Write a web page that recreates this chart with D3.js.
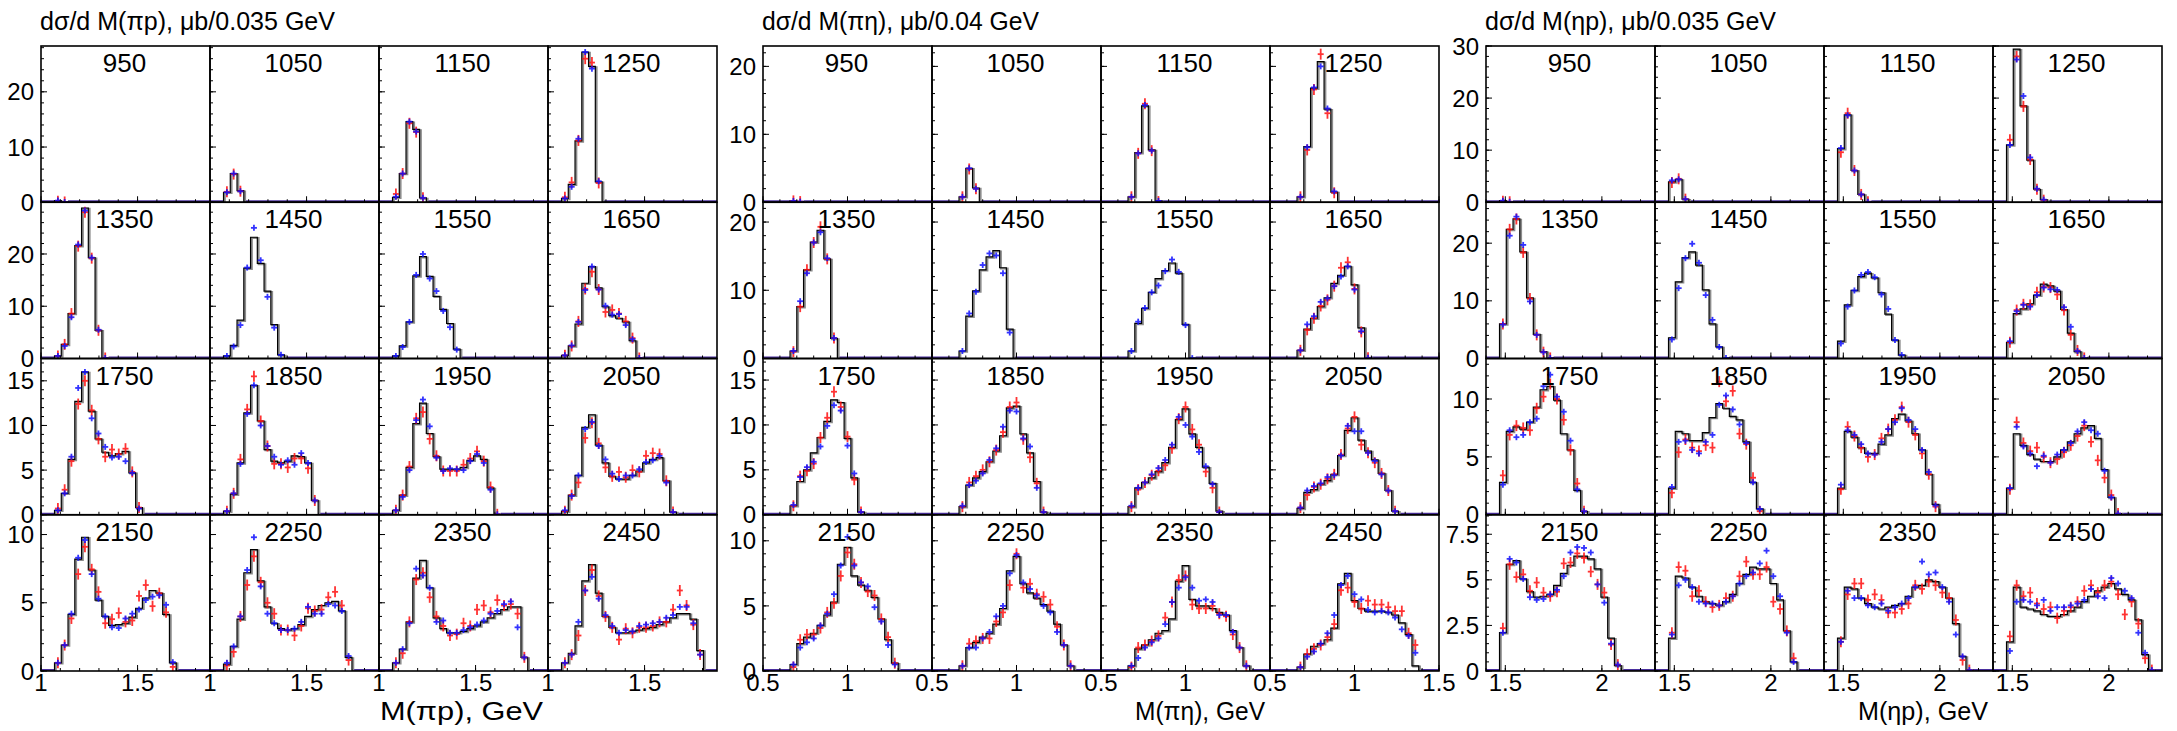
<!DOCTYPE html>
<html>
<head>
<meta charset="utf-8">
<script src="https://cdn.jsdelivr.net/npm/d3@7/dist/d3.min.js"></script>
<style>
    body { margin: 0; background: #fff; }
    svg text { font-family: "Liberation Sans", Arial, Helvetica, sans-serif; fill: #000; }
</style>
</head>
<body>
<div id="chart"></div>
<script>
// energy of each pad (MeV), read row by row
const energies = [950, 1050, 1150, 1250, 1350, 1450, 1550, 1650, 1750, 1850, 1950, 2050, 2150, 2250, 2350, 2450];

/* ---- M(pi p) : bins of 0.035 GeV starting at 1.0, first filled bin = 2 ---- */
const pipHist = [
    [0.3, 0.05],
    [1.8, 5.2, 2.1],
    [0.9, 5.2, 14.6, 13.2, 0.8],
    [0.7, 3.25, 11.1, 27.2, 24.6, 3.7],
    [0.5, 2.7, 8.6, 21.6, 28.8, 19.3, 5.4, 0.1],
    [0.5, 2.5, 7.35, 17.3, 23.2, 18.2, 12.9, 6.5, 0.7],
    [0.5, 2.4, 7.0, 15.8, 19.5, 15.7, 11.9, 9.4, 6.7, 1.8],
    [0.6, 2.4, 6.6, 14.4, 17.6, 13.5, 9.9, 8.2, 7.7, 7.0, 3.4, 0.1],
    [0.5, 2.4, 6.2, 12.7, 16.0, 11.6, 8.5, 7.0, 6.6, 6.85, 7.1, 4.7, 0.8],
    [0.4, 2.3, 5.8, 11.4, 14.5, 10.5, 7.3, 6.0, 5.8, 6.0, 6.6, 6.5, 5.8, 1.6],
    [0.5, 2.2, 5.3, 10.2, 12.5, 9.1, 6.5, 5.1, 5.1, 5.1, 5.3, 6.1, 6.6, 6.2, 3.0, 0.05],
    [0.4, 2.2, 4.4, 9.8, 11.2, 7.8, 5.8, 4.3, 4.0, 4.0, 4.4, 4.9, 5.8, 6.2, 6.4, 3.8, 0.3],
    [0.6, 1.9, 4.15, 8.2, 9.8, 7.4, 5.2, 4.0, 3.35, 3.4, 3.5, 3.95, 4.6, 5.35, 5.9, 5.7, 4.15, 0.6],
    [0.5, 1.8, 3.8, 7.2, 8.9, 6.6, 4.7, 3.5, 3.1, 3.0, 3.1, 3.4, 4.0, 4.5, 4.8, 5.0, 5.1, 4.4, 1.0],
    [0.6, 1.6, 3.6, 6.8, 8.1, 6.1, 3.9, 3.1, 2.8, 2.8, 2.9, 3.1, 3.3, 3.6, 3.9, 4.2, 4.5, 4.7, 4.7, 1.0],
    [0.6, 1.3, 3.3, 6.6, 7.8, 5.7, 4.0, 3.2, 2.8, 2.8, 2.9, 3.0, 3.1, 3.2, 3.4, 3.6, 3.9, 4.2, 4.2, 3.8, 1.5]
];
const pipBlue = [
    [0.3, 0.05],
    [1.8, 5.2, 2.0],
    [1.0, 5.2, 14.6, 12.8, 0.8],
    [0.7, 2.8, 11.5, 27.2, 24.2, 3.8],
    [0.5, 2.4, 7.9, 21.8, 28.3, 19.3, 5.5, 0.1],
    [0.5, 2.3, 6.4, 17.4, 25.0, 18.8, 11.8, 5.9, 0.7],
    [0.5, 2.2, 7.0, 16.0, 20.0, 15.3, 12.9, 9.1, 6.0, 1.7],
    [0.6, 2.5, 7.0, 13.1, 17.6, 13.2, 10.1, 8.4, 8.5, 6.4, 3.7, 0.1],
    [0.5, 2.4, 6.5, 14.2, 16.0, 10.8, 9.1, 7.6, 6.4, 6.5, 6.0, 4.7, 0.7],
    [0.4, 2.4, 5.7, 11.3, 14.5, 10.0, 7.7, 6.5, 5.6, 6.1, 5.6, 6.9, 5.8, 1.6],
    [0.5, 2.0, 5.0, 10.6, 12.9, 9.9, 6.4, 4.9, 5.2, 5.1, 5.0, 6.0, 6.8, 5.8, 2.8, 0.05],
    [0.5, 2.1, 4.4, 9.6, 10.4, 7.7, 6.2, 4.6, 4.0, 4.4, 4.4, 5.1, 5.9, 6.1, 6.6, 3.6, 0.3],
    [0.6, 1.9, 4.2, 8.3, 9.6, 7.1, 5.3, 4.0, 3.2, 3.15, 3.85, 4.2, 4.5, 5.2, 5.45, 5.55, 4.85, 0.65],
    [0.6, 1.8, 4.0, 7.4, 9.8, 6.2, 4.2, 3.5, 3.0, 3.0, 3.1, 3.6, 4.7, 4.2, 4.2, 4.9, 4.8, 4.4, 1.1],
    [0.6, 1.6, 3.5, 7.5, 7.0, 6.1, 3.6, 3.7, 2.8, 2.8, 3.0, 3.2, 3.4, 3.7, 4.2, 4.4, 4.9, 5.1, 3.2, 1.0],
    [0.6, 1.2, 3.6, 5.9, 6.9, 5.3, 4.1, 3.3, 2.8, 3.0, 2.9, 3.3, 3.4, 3.5, 3.6, 3.9, 4.1, 4.7, 4.7, 3.5, 1.2]
];
const pipRed = [
    [0.2, 0.05],
    [1.9, 5.1, 2.0],
    [1.5, 5.2, 14.3, 12.7, 0.8],
    [0.9, 3.6, 11.2, 26.0, 25.3, 3.5],
    [0.5, 2.7, 8.6, 21.5, 28.0, 19.2, 5.4, 0.1],
    null,
    null,
    [0.6, 2.4, 7.1, 13.3, 16.6, 13.2, 8.9, 9.3, 8.6, 7.1, 3.9, 0.1],
    [0.7, 2.8, 6.0, 12.4, 15.0, 11.7, 8.5, 6.5, 7.3, 6.8, 7.4, 4.8, 0.8],
    [0.4, 2.4, 6.2, 11.8, 15.5, 10.5, 7.7, 5.7, 5.7, 5.3, 6.3, 6.3, 5.2, 1.6],
    [0.5, 2.2, 5.4, 10.8, 11.5, 8.5, 6.6, 4.9, 4.9, 4.9, 5.6, 6.3, 7.1, 6.0, 3.1, 0.05],
    [0.4, 2.2, 3.6, 8.6, 10.3, 8.0, 5.3, 4.3, 4.8, 4.2, 5.0, 4.8, 6.6, 6.9, 6.8, 3.8, 0.3],
    [0.6, 1.9, 3.85, 7.1, 9.1, 7.45, 5.8, 3.5, 3.8, 4.25, 3.6, 3.7, 5.5, 6.3, 4.75, 5.7, 4.3, 0.3],
    [0.4, 1.4, 4.0, 6.3, 8.4, 6.5, 5.0, 4.2, 3.0, 3.0, 2.6, 3.3, 4.6, 4.4, 4.5, 5.4, 5.8, 4.8, 0.8],
    [0.6, 1.3, 3.6, 6.7, 7.2, 5.4, 4.0, 3.3, 2.6, 2.7, 3.5, 3.3, 4.5, 4.8, 4.3, 5.2, 4.8, 4.9, 4.2, 1.0],
    [0.6, 1.2, 2.6, 5.9, 7.4, 5.5, 4.0, 3.2, 2.3, 3.1, 2.8, 3.2, 3.2, 3.3, 3.6, 3.6, 4.5, 5.9, 4.8, 3.4, 1.2]
];
const pipRowMax = [28.3, 29.9, 17.5, 11.45];

/* ---- M(pi eta) : bins of 0.04 GeV starting at 0.5, first filled bin = 4 ---- */
const pietaHist = [
    [0.2, 0.1],
    [0.8, 5.0, 2.1],
    [0.8, 7.3, 14.2, 7.7, 0.2],
    [0.8, 8.2, 16.8, 20.7, 13.7, 1.5],
    [1.1, 7.6, 13.0, 17.05, 18.8, 14.6, 2.95],
    [1.1, 6.2, 9.9, 13.0, 14.9, 15.8, 13.3, 4.3],
    [1.1, 5.15, 7.35, 9.7, 11.7, 12.9, 14.0, 12.5, 5.0, 0.05],
    [1.2, 4.3, 5.9, 7.6, 8.9, 11.0, 12.2, 13.5, 10.8, 4.5, 0.1],
    [1.0, 3.7, 5.0, 6.9, 8.6, 10.4, 12.8, 12.5, 8.5, 4.1, 0.3],
    [0.9, 3.3, 4.1, 4.8, 5.9, 7.1, 8.8, 11.9, 12.1, 9.0, 6.9, 3.7, 0.3],
    [0.9, 3.0, 3.6, 4.1, 4.8, 5.8, 7.5, 10.6, 11.8, 9.0, 7.5, 5.3, 3.5, 0.4],
    [0.7, 2.5, 2.8, 3.4, 3.8, 4.5, 6.6, 9.4, 10.8, 8.3, 7.1, 6.1, 4.6, 2.7, 0.4],
    [0.5, 2.1, 2.6, 2.9, 3.5, 4.3, 5.3, 8.2, 9.5, 7.3, 6.6, 6.2, 5.65, 4.0, 2.4, 0.6],
    [0.4, 1.8, 2.2, 2.6, 2.9, 3.6, 4.8, 7.7, 8.8, 6.7, 6.0, 5.6, 5.1, 4.6, 3.6, 2.0, 0.4],
    [0.4, 1.7, 2.0, 2.4, 2.9, 3.1, 4.0, 6.9, 8.1, 5.5, 5.0, 5.0, 4.8, 4.5, 4.3, 3.1, 1.8, 0.4],
    [0.3, 1.3, 1.9, 2.1, 2.4, 3.3, 6.7, 7.5, 5.4, 4.8, 4.6, 4.6, 4.6, 4.5, 4.3, 3.7, 2.8, 0.4]
];
const pietaBlue = [
    [0.2, 0.1],
    [0.8, 5.0, 2.0],
    [0.8, 7.2, 14.3, 7.6, 0.2],
    [0.8, 8.1, 16.9, 20.0, 13.8, 1.6],
    [1.1, 8.4, 12.5, 17.0, 18.5, 14.7, 3.0],
    [1.1, 6.6, 9.8, 13.7, 15.4, 15.1, 12.5, 3.8],
    [1.1, 5.4, 7.4, 9.7, 10.7, 12.8, 14.5, 12.7, 4.9, 0.05],
    [1.2, 5.0, 6.2, 8.3, 8.8, 10.6, 12.0, 13.5, 10.1, 4.0, 0.1],
    [1.1, 4.2, 5.3, 5.9, 7.6, 9.9, 12.2, 11.6, 7.7, 4.6, 0.3],
    [1.0, 3.3, 3.8, 4.6, 6.1, 7.4, 9.8, 11.6, 11.5, 8.5, 7.6, 3.0, 0.3],
    [1.0, 3.0, 3.6, 4.5, 5.2, 6.1, 7.8, 10.9, 10.0, 8.7, 7.0, 5.4, 3.4, 0.3],
    [0.8, 2.7, 3.2, 3.5, 4.2, 4.4, 6.6, 9.9, 9.3, 9.3, 6.9, 6.0, 4.5, 2.7, 0.4],
    [0.5, 1.8, 2.2, 2.5, 3.5, 4.4, 5.9, 8.1, 10.3, 8.1, 6.8, 6.5, 4.9, 3.8, 2.0, 0.5],
    [0.4, 1.8, 1.8, 2.5, 3.0, 4.2, 5.0, 7.5, 8.9, 6.8, 6.3, 5.8, 5.0, 4.5, 3.0, 2.0, 0.4],
    [0.4, 1.0, 1.8, 2.2, 2.5, 3.6, 5.3, 6.4, 7.2, 6.4, 5.4, 5.5, 5.3, 4.3, 4.3, 3.0, 1.8, 0.4],
    [0.3, 1.1, 1.5, 2.1, 2.9, 4.3, 6.6, 7.3, 5.9, 5.5, 4.7, 4.5, 4.6, 4.5, 4.1, 3.2, 2.7, 1.4]
];
const pietaRed = [
    [0.2, 0.1],
    [0.8, 4.9, 2.0],
    [0.8, 7.2, 14.5, 7.6, 0.1],
    [0.8, 7.7, 16.6, 21.8, 13.1, 1.4],
    [1.0, 7.6, 13.0, 17.0, 19.3, 14.6, 3.0],
    null,
    null,
    [1.2, 4.2, 5.9, 7.7, 8.6, 10.6, 13.3, 14.1, 10.2, 3.9, 0.1],
    [1.0, 4.3, 4.9, 5.7, 8.6, 10.8, 13.7, 12.0, 8.7, 3.9, 0.3],
    [0.9, 3.6, 4.3, 5.0, 5.9, 7.2, 9.2, 12.0, 12.5, 8.4, 6.4, 3.5, 0.3],
    [0.9, 2.8, 3.6, 4.4, 4.9, 5.5, 7.4, 10.7, 12.0, 9.5, 7.8, 4.8, 3.0, 0.3],
    [0.8, 2.2, 3.1, 3.4, 4.0, 4.5, 6.7, 9.6, 10.9, 7.8, 6.9, 5.8, 4.6, 2.7, 0.4],
    [0.3, 2.4, 2.8, 2.8, 3.3, 4.5, 5.2, 7.3, 9.1, 8.2, 6.8, 6.1, 5.8, 4.0, 2.6, 0.6],
    [0.4, 2.1, 2.3, 2.5, 2.5, 3.8, 4.5, 6.6, 9.0, 6.4, 6.7, 5.9, 5.7, 5.1, 3.4, 2.0, 0.4],
    [0.3, 1.8, 2.0, 2.3, 2.7, 4.1, 5.3, 7.0, 7.3, 5.1, 4.8, 4.8, 5.0, 4.4, 4.2, 2.8, 1.8, 0.4],
    [0.3, 1.3, 1.7, 2.0, 2.6, 3.6, 6.2, 6.4, 5.3, 4.8, 5.4, 5.1, 5.1, 4.9, 4.6, 4.6, 2.9, 2.0]
];
const pietaRowMax = [23.0, 22.9, 17.4, 12.0];

/* ---- M(eta p) : bins of 0.035 GeV starting at 1.4, first filled bin = 2 ---- */
const etapHist = [
    [0.3, 0.1],
    [3.9, 4.4, 0.6],
    [10.3, 16.8, 6.1, 1.5, 0.1],
    [11.0, 29.4, 18.5, 8.1, 2.5, 0.5],
    [6.0, 22.4, 24.2, 18.5, 10.5, 4.2, 1.2, 0.1],
    [3.6, 13.3, 17.5, 18.5, 16.2, 11.9, 6.0, 2.0, 0.1],
    [3.0, 9.3, 11.8, 14.2, 14.8, 14.0, 11.4, 7.7, 3.2, 0.6],
    [2.8, 7.8, 8.6, 9.5, 11.0, 12.9, 12.6, 11.7, 8.5, 4.4, 1.2, 0.1],
    [2.8, 7.2, 7.6, 7.4, 8.0, 9.3, 10.8, 11.1, 9.9, 7.0, 5.6, 2.1, 0.3],
    [2.3, 7.2, 7.0, 6.4, 6.4, 7.1, 8.4, 9.6, 9.2, 8.5, 8.2, 6.3, 2.8, 0.5],
    [2.3, 7.2, 6.7, 5.8, 5.3, 5.3, 6.1, 6.9, 8.3, 8.7, 8.1, 7.0, 5.6, 3.5, 0.9],
    [2.3, 7.0, 6.0, 5.2, 4.8, 4.6, 4.6, 5.0, 5.6, 6.3, 7.0, 7.5, 7.7, 6.6, 3.9, 1.5, 0.1],
    [2.1, 5.85, 6.05, 5.05, 4.35, 4.05, 4.1, 4.2, 4.7, 5.35, 5.8, 6.3, 6.3, 6.15, 5.6, 4.05, 1.8, 0.3],
    [1.8, 5.2, 5.1, 4.6, 4.1, 3.8, 3.7, 3.6, 3.8, 4.2, 4.8, 5.3, 5.7, 5.6, 5.6, 4.8, 3.9, 2.2, 0.5],
    [1.8, 4.6, 4.5, 4.0, 3.7, 3.5, 3.4, 3.5, 3.6, 3.7, 4.1, 4.6, 4.7, 5.0, 4.9, 4.6, 4.0, 2.6, 0.8, 0.05],
    [1.6, 4.6, 3.5, 3.4, 3.3, 3.1, 3.0, 3.0, 3.1, 3.3, 3.5, 3.8, 4.1, 4.4, 4.6, 4.8, 4.5, 4.2, 3.9, 2.8, 0.9, 0.05]
];
const etapBlue = [
    [0.3, 0.1],
    [4.2, 4.4, 0.6],
    [10.4, 16.7, 6.1, 1.5, 0.1],
    [11.0, 27.4, 20.4, 8.6, 2.6, 0.5],
    [5.9, 21.3, 24.6, 19.7, 9.9, 4.1, 1.1, 0.1],
    [3.3, 12.2, 17.4, 19.9, 16.6, 11.0, 6.7, 2.0, 0.1],
    [2.6, 9.0, 11.8, 14.5, 15.0, 14.1, 11.1, 8.6, 3.2, 0.6],
    [3.0, 8.2, 9.3, 9.0, 11.0, 12.3, 12.0, 11.9, 8.9, 5.5, 1.3, 0.1],
    [2.6, 7.3, 6.7, 6.9, 8.0, 8.3, 11.1, 12.1, 10.2, 8.9, 6.4, 2.2, 0.3],
    [2.4, 6.3, 6.4, 5.6, 5.3, 6.3, 6.9, 9.5, 10.3, 9.1, 7.8, 6.2, 2.8, 0.5],
    [2.6, 7.3, 6.9, 6.1, 5.3, 5.2, 6.3, 7.4, 8.0, 9.2, 8.2, 7.4, 5.6, 3.7, 0.8],
    [2.3, 7.6, 5.9, 5.3, 4.2, 5.1, 4.5, 5.2, 5.6, 6.2, 7.2, 8.0, 7.3, 7.0, 3.8, 1.5, 0.1],
    [2.1, 6.15, 5.95, 5.05, 4.05, 3.9, 3.95, 4.2, 4.45, 5.2, 6.5, 6.8, 6.75, 6.5, 4.75, 3.75, 1.5, 0.35],
    [2.0, 4.7, 5.0, 4.6, 3.8, 3.7, 3.7, 3.6, 3.8, 4.1, 4.8, 5.2, 5.4, 5.9, 6.6, 5.2, 4.1, 2.1, 0.5],
    [1.6, 4.4, 4.0, 4.0, 3.6, 3.5, 3.7, 3.3, 3.5, 3.7, 4.0, 4.6, 6.0, 5.3, 5.4, 4.6, 3.8, 2.0, 0.8, 0.05],
    [1.1, 3.8, 3.9, 3.8, 3.6, 3.9, 3.3, 3.5, 3.5, 3.6, 3.7, 3.9, 4.5, 4.1, 4.0, 5.1, 4.8, 4.4, 4.0, 2.1, 1.0, 0.05]
];
const etapRed = [
    [0.2, 0.1],
    [3.8, 4.5, 0.6],
    [9.6, 17.1, 6.1, 1.5, 0.1],
    [12.0, 28.0, 18.4, 8.2, 2.5, 0.4],
    [6.0, 22.4, 24.2, 18.4, 10.4, 4.1, 1.1, 0.1],
    null,
    null,
    [2.8, 8.4, 9.4, 9.3, 11.5, 12.4, 12.3, 11.1, 8.4, 4.1, 1.4, 0.1],
    [3.4, 6.9, 7.7, 7.5, 7.3, 9.2, 10.2, 11.3, 10.0, 8.2, 5.6, 2.7, 0.3],
    [1.9, 5.4, 6.5, 5.8, 5.5, 6.0, 5.8, 11.5, 9.8, 10.7, 7.0, 6.1, 3.2, 0.3],
    [2.2, 7.6, 6.8, 5.8, 5.0, 5.2, 6.6, 7.4, 8.2, 9.3, 8.0, 6.9, 5.3, 3.5, 0.7],
    [2.2, 8.0, 6.2, 5.5, 5.8, 5.0, 4.5, 4.8, 5.4, 6.0, 6.8, 7.7, 6.3, 4.7, 3.2, 1.7, 0.1],
    [2.35, 5.85, 5.15, 5.3, 4.4, 4.85, 4.3, 4.1, 4.35, 5.9, 5.95, 6.45, 6.2, 5.45, 4.75, 4.3, 1.45, 0.35],
    [2.1, 5.7, 5.5, 4.1, 4.4, 3.8, 3.5, 3.6, 4.0, 4.1, 5.2, 6.0, 5.3, 5.3, 5.7, 3.8, 3.4, 2.2, 0.7],
    [1.6, 4.2, 4.8, 4.8, 3.9, 4.2, 3.9, 3.2, 3.2, 3.4, 3.7, 4.7, 4.5, 4.9, 4.7, 4.3, 4.0, 2.8, 0.6, 0.05],
    [1.9, 4.7, 4.1, 4.3, 3.7, 3.4, 3.5, 2.9, 3.3, 3.5, 3.8, 4.4, 4.7, 4.3, 4.7, 4.9, 4.2, 3.1, 3.8, 2.6, 0.7, 0.05]
];
const etapRowMax = [30.0, 27.1, 13.5, 8.57];

// y tick steps [major, minor] for each row
const pipTicks = [[10, 2], [10, 2], [5, 1], [5, 1]];
const pietaTicks = [[10, 2], [10, 2], [5, 1], [5, 1]];
const etapTicks = [[10, 2], [10, 2], [5, 1], [2.5, 0.5]];

const panels = [
    { hist: pipHist, blue: pipBlue, red: pipRed, rowMax: pipRowMax, ticks: pipTicks,
      xMin: 1.0, xMax: 1.875, binW: 0.035, firstBin: 2, left: 41, right: 717,
      title: "dσ/d M(πp), μb/0.035 GeV", titleW: 295, xTitle: "M(πp), GeV", xTitleW: 163 },
    { hist: pietaHist, blue: pietaBlue, red: pietaRed, rowMax: pietaRowMax, ticks: pietaTicks,
      xMin: 0.5, xMax: 1.5, binW: 0.04, firstBin: 4, left: 763, right: 1439,
      title: "dσ/d M(πη), μb/0.04 GeV", titleW: 277, xTitle: "M(πη), GeV", xTitleW: 130 },
    { hist: etapHist, blue: etapBlue, red: etapRed, rowMax: etapRowMax, ticks: etapTicks,
      xMin: 1.4, xMax: 2.275, binW: 0.035, firstBin: 2, left: 1486, right: 2162,
      title: "dσ/d M(ηp), μb/0.035 GeV", titleW: 291, xTitle: "M(ηp), GeV", xTitleW: 130 }
];

const width = 2177, height = 731;
const frameTop = 46, frameBottom = 671;
const nRows = 4, nCols = 4;
const rowH = (frameBottom - frameTop) / nRows;

const svg = d3.select("#chart").append("svg")
    .attr("width", width)
    .attr("height", height)
    .style("display", "block");

svg.append("rect").attr("width", width).attr("height", height).attr("fill", "#fff");

const fmt = v => String(+v.toFixed(3));
const eps = 1e-6;

panels.forEach((p, pi) => {
    const colW = (p.right - p.left) / nCols;
    const nBins = Math.round((p.xMax - p.xMin) / p.binW);
    const g = svg.append("g").attr("class", "panel-" + pi);

    // panel title
    g.append("text")
        .attr("x", p.left - 1)
        .attr("y", 30)
        .attr("font-size", 25)
        .attr("textLength", p.titleW)
        .attr("lengthAdjust", "spacingAndGlyphs")
        .text(p.title);

    energies.forEach((e, k) => {
        const row = Math.floor(k / nCols), col = k % nCols;
        const x0 = p.left + col * colW, y0 = frameTop + row * rowH;

        const x = d3.scaleLinear().domain([p.xMin, p.xMax]).range([x0, x0 + colW]);
        const y = d3.scaleLinear().domain([0, p.rowMax[row]]).range([y0 + rowH, y0]);

        const pad = g.append("g").attr("class", "pad");
        const clipId = "clip-" + pi + "-" + k;
        pad.append("clipPath").attr("id", clipId)
            .append("rect").attr("x", x0).attr("y", y0 - 4).attr("width", colW).attr("height", rowH + 4);
        const inner = pad.append("g").attr("clip-path", "url(#" + clipId + ")");

        // full list of bin contents
        const vals = new Array(nBins).fill(0);
        p.hist[k].forEach((v, i) => { vals[p.firstBin + i] = v; });
        const steps = vals.map((v, i) => [p.xMin + i * p.binW, v]);
        steps.push([p.xMax, vals[nBins - 1]]);

        // zero-valued points along the axis outside the filled range
        const lo = p.xMin + p.firstBin * p.binW;
        const hi = p.xMin + (p.firstBin + p.hist[k].length) * p.binW;
        [[p.xMin, lo], [hi, p.xMax]].forEach(seg => {
            inner.append("line")
                .attr("x1", x(seg[0])).attr("x2", x(seg[1]))
                .attr("y1", y(0) - 1).attr("y2", y(0) - 1)
                .attr("stroke", "#4a2f9e").attr("stroke-width", 2);
        });

        const line = d3.line()
            .x(d => x(d[0]))
            .y(d => y(d[1]))
            .curve(d3.curveStepAfter);

        inner.append("path")
            .datum(steps)
            .attr("d", line)
            .attr("fill", "none")
            .attr("stroke", "#8c8c8c")
            .attr("stroke-width", 2)
            .attr("transform", "translate(1.3,0.8)");

        inner.append("path")
            .datum(steps)
            .attr("d", line)
            .attr("fill", "none")
            .attr("stroke", "#000")
            .attr("stroke-width", 1.2);

        // data points as crosses
        const drawPoints = (data, color, halfW, halfH) => {
            if (!data) return;
            const pg = inner.append("g").attr("stroke", color).attr("stroke-width", 1.8).attr("opacity", 0.85);
            const cx = i => x(p.xMin + (p.firstBin + i + 0.5) * p.binW);
            pg.selectAll("line.h").data(data).join("line").attr("class", "h")
                .attr("x1", (d, i) => cx(i) - halfW).attr("x2", (d, i) => cx(i) + halfW)
                .attr("y1", d => y(d)).attr("y2", d => y(d));
            pg.selectAll("line.v").data(data).join("line").attr("class", "v")
                .attr("x1", (d, i) => cx(i)).attr("x2", (d, i) => cx(i))
                .attr("y1", d => y(d) - halfH).attr("y2", d => y(d) + halfH);
        };
        drawPoints(p.red[k], "#ff1010", 3, 5.5);
        drawPoints(p.blue[k], "#1010ff", 3, 3);

        // frame
        pad.append("rect")
            .attr("x", x0).attr("y", y0).attr("width", colW).attr("height", rowH)
            .attr("fill", "none").attr("stroke", "#000").attr("stroke-width", 1.6);

        // y ticks on the left edge of every pad
        const [yMaj, yMin] = p.ticks[row];
        const yMajors = d3.range(0, p.rowMax[row] + eps, yMaj);
        const yMinors = d3.range(0, p.rowMax[row] + eps, yMin);
        pad.selectAll("line.ymin").data(yMinors).join("line").attr("class", "ymin")
            .attr("x1", x0).attr("x2", x0 + 3).attr("y1", d => y(d)).attr("y2", d => y(d))
            .attr("stroke", "#000").attr("stroke-width", 1);
        pad.selectAll("line.ymaj").data(yMajors).join("line").attr("class", "ymaj")
            .attr("x1", x0).attr("x2", x0 + 6).attr("y1", d => y(d)).attr("y2", d => y(d))
            .attr("stroke", "#000").attr("stroke-width", 1);

        // x ticks on the bottom edge of every pad
        const xMajors = d3.range(Math.ceil(p.xMin / 0.5 - eps) * 0.5, p.xMax + eps, 0.5);
        const xMinors = d3.range(p.xMin, p.xMax + eps, 0.1);
        pad.selectAll("line.xmin").data(xMinors).join("line").attr("class", "xmin")
            .attr("x1", d => x(d)).attr("x2", d => x(d)).attr("y1", y0 + rowH).attr("y2", y0 + rowH - 3)
            .attr("stroke", "#000").attr("stroke-width", 1);
        pad.selectAll("line.xmaj").data(xMajors).join("line").attr("class", "xmaj")
            .attr("x1", d => x(d)).attr("x2", d => x(d)).attr("y1", y0 + rowH).attr("y2", y0 + rowH - 6)
            .attr("stroke", "#000").attr("stroke-width", 1);

        if (col === 0) {
            pad.selectAll("text.ylab").data(yMajors).join("text").attr("class", "ylab")
                .attr("x", x0 - 7).attr("y", d => y(d))
                .attr("dy", "0.36em")
                .attr("text-anchor", "end")
                .attr("font-size", 24)
                .text(fmt);
        }
        if (row === nRows - 1) {
            const shown = xMajors.filter(v => v < p.xMax - eps || col === nCols - 1);
            pad.selectAll("text.xlab").data(shown).join("text").attr("class", "xlab")
                .attr("x", d => x(d)).attr("y", y0 + rowH + 20)
                .attr("text-anchor", "middle")
                .attr("font-size", 24)
                .text(fmt);
        }

        // energy label
        pad.append("text")
            .attr("x", x0 + colW / 2 - 1)
            .attr("y", y0 + 26)
            .attr("text-anchor", "middle")
            .attr("font-size", 26)
            .text(e);

        if (row === nRows - 1 && col === 2) {
            g.append("text")
                .attr("x", x0 + colW - 5)
                .attr("y", 720)
                .attr("text-anchor", "end")
                .attr("font-size", 25)
                .attr("textLength", p.xTitleW)
                .attr("lengthAdjust", "spacingAndGlyphs")
                .text(p.xTitle);
        }
    });
});
</script>
</body>
</html>
